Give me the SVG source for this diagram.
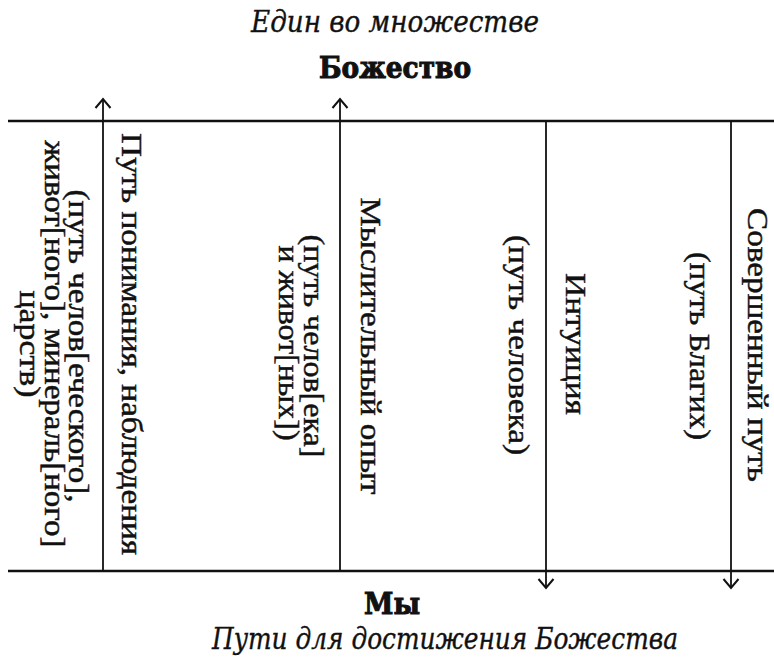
<svg xmlns="http://www.w3.org/2000/svg" width="774" height="661" viewBox="0 0 774 661">
<style>
  .ttl{font-family:"DejaVu Serif","Liberation Serif",serif;font-style:italic;font-size:30px;fill:#111;stroke:#111;stroke-width:0.4;text-anchor:middle}
  .bold{font-family:"DejaVu Serif","Liberation Serif",serif;font-weight:bold;font-size:30px;fill:#111;stroke:#111;stroke-width:1.1;text-anchor:middle}
  .v{font-family:"Liberation Serif","DejaVu Serif",serif;font-size:29px;fill:#111;stroke:#111;stroke-width:0.45;text-anchor:middle}
  .hl{stroke:#111;stroke-width:2.5;fill:none}
  .vl{stroke:#111;stroke-width:1.8;fill:none}
</style>
<defs>
  <marker id="arr" markerUnits="userSpaceOnUse" markerWidth="20" markerHeight="20" viewBox="-12 -10 14 20" refX="0" refY="0" orient="auto">
    <path d="M-9,-7.5 L0,0 L-9,7.5" fill="none" stroke="#111" stroke-width="2"/>
  </marker>
</defs>
<rect width="774" height="661" fill="#fff"/>

<g id="title-top"><text class="ttl" x="395" y="32" textLength="288" lengthAdjust="spacingAndGlyphs">Един во множестве</text></g>
<g id="node-god"><text class="bold" x="395" y="78" textLength="152" lengthAdjust="spacingAndGlyphs">Божество</text></g>
<g id="node-we"><text class="bold" x="392" y="614" textLength="56" lengthAdjust="spacingAndGlyphs">Мы</text></g>
<g id="title-bottom"><text class="ttl" x="445" y="649" textLength="466" lengthAdjust="spacingAndGlyphs">Пути для достижения Божества</text></g>

<g id="connectors">
  <line class="hl" x1="8" y1="121" x2="774" y2="121"/>
  <line class="hl" x1="8" y1="571" x2="774" y2="571"/>
  <line class="vl" x1="103" y1="571" x2="103" y2="99" marker-end="url(#arr)"/>
  <line class="vl" x1="340" y1="571" x2="340" y2="99" marker-end="url(#arr)"/>
  <line class="vl" x1="546" y1="121" x2="546" y2="588" marker-end="url(#arr)"/>
  <line class="vl" x1="731" y1="121" x2="731" y2="588" marker-end="url(#arr)"/>
</g>

<g id="label-kingdoms">
  <text class="v" transform="translate(69,346) rotate(90)" textLength="313" lengthAdjust="spacingAndGlyphs">(путь челов[еческого],</text>
  <text class="v" transform="translate(45,344) rotate(90)" textLength="407" lengthAdjust="spacingAndGlyphs">живот[ного], минераль[ного]</text>
  <text class="v" transform="translate(20,344) rotate(90)" textLength="107" lengthAdjust="spacingAndGlyphs">царств)</text>
</g>
<g id="path-understanding">
  <text class="v" transform="translate(122,344) rotate(90)" textLength="422" lengthAdjust="spacingAndGlyphs">Путь понимания, наблюдения</text>
</g>
<g id="label-human-animal">
  <text class="v" transform="translate(304,346) rotate(90)" textLength="223" lengthAdjust="spacingAndGlyphs">(путь челов[ека]</text>
  <text class="v" transform="translate(279,343) rotate(90)" textLength="195" lengthAdjust="spacingAndGlyphs">и живот[ных])</text>
</g>
<g id="path-thinking">
  <text class="v" transform="translate(361,346) rotate(90)" textLength="297" lengthAdjust="spacingAndGlyphs">Мыслительный опыт</text>
</g>
<g id="label-human">
  <text class="v" transform="translate(509,345) rotate(90)" textLength="220" lengthAdjust="spacingAndGlyphs">(путь человека)</text>
</g>
<g id="path-intuition">
  <text class="v" transform="translate(566,344) rotate(90)" textLength="142" lengthAdjust="spacingAndGlyphs">Интуиция</text>
</g>
<g id="label-blessed">
  <text class="v" transform="translate(690,346) rotate(90)" textLength="188" lengthAdjust="spacingAndGlyphs">(путь Благих)</text>
</g>
<g id="path-perfect">
  <text class="v" transform="translate(748,345) rotate(90)" textLength="274" lengthAdjust="spacingAndGlyphs">Совершенный путь</text>
</g>
</svg>
